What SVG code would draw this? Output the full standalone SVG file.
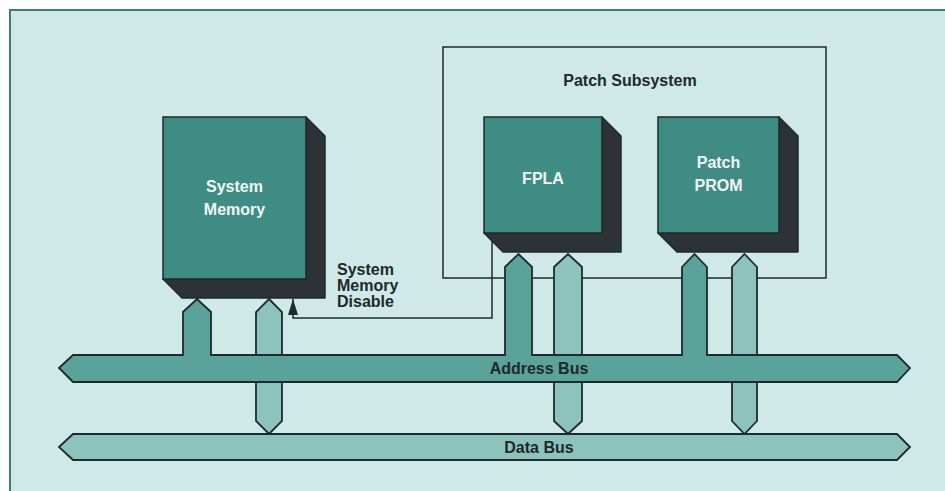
<svg xmlns="http://www.w3.org/2000/svg" width="945" height="491" viewBox="0 0 945 491">
  <style>
    .front { fill: #3f8c85; stroke: #1f2a2a; stroke-width: 1.5; }
    .shadow { fill: #2c3236; stroke: #1f2a2a; stroke-width: 1.5; stroke-linejoin: round; }
    .wt { font-family: "Liberation Sans", Arial, sans-serif; font-weight: bold; font-size: 16px; fill: #f2f7f6; text-anchor: middle; }
    .dt { font-family: "Liberation Sans", Arial, sans-serif; font-weight: bold; font-size: 16px; fill: #22282a; }
    .abus { fill: #5aa39a; stroke: #1f2a2a; stroke-width: 1.8; stroke-linejoin: miter; }
    .dbus { fill: #8cc3bc; stroke: #1f2a2a; stroke-width: 1.8; stroke-linejoin: miter; }
    .wire { fill: none; stroke: #1f2a2a; stroke-width: 1.5; }
  </style>
  <defs>
    <marker id="arr" markerUnits="userSpaceOnUse" markerWidth="16" markerHeight="10" viewBox="0 0 16 10" refX="16" refY="5" orient="auto">
      <path d="M0,0 L16,5 L0,10 z" fill="#1f2a2a"/>
    </marker>
  </defs>

  <!-- background and frame -->
  <rect x="0" y="0" width="945" height="491" fill="#ffffff"/>
  <rect x="10" y="10" width="935" height="481" fill="#cfe9e8"/>
  <path d="M10,491 V10 H945" fill="none" stroke="#3d7f78" stroke-width="2"/>

  <!-- Patch subsystem enclosure -->
  <g id="patch-subsystem">
    <rect x="443" y="47" width="383" height="231" fill="none" stroke="#1f2a2a" stroke-width="1.5"/>
    <text class="dt" x="630" y="86" text-anchor="middle">Patch Subsystem</text>
  </g>

  <!-- System Memory -->
  <g id="system-memory">
    <polygon class="shadow" points="306,117 325,136 325,298 182,298 163,279 306,279"/>
    <rect class="front" x="163" y="117" width="143" height="162"/>
    <text class="wt" x="234.5" y="192">System</text>
    <text class="wt" x="234.5" y="215">Memory</text>
  </g>

  <!-- FPLA -->
  <g id="fpla">
    <polygon class="shadow" points="602,117 621,136 621,252 503,252 484,233 602,233"/>
    <rect class="front" x="484" y="117" width="118" height="116"/>
    <text class="wt" x="543" y="184">FPLA</text>
  </g>

  <!-- Patch PROM -->
  <g id="patch-prom">
    <polygon class="shadow" points="779,117 798,136 798,252 677,252 658,233 779,233"/>
    <rect class="front" x="658" y="117" width="121" height="116"/>
    <text class="wt" x="718.5" y="168">Patch</text>
    <text class="wt" x="718.5" y="191">PROM</text>
  </g>

  <!-- connectors -->
  <g id="connectors">
    <polygon class="dbus" points="269,299 282,312 282,421 269,434 256,421 256,312"/>
    <polygon class="dbus" points="568,254 582,267 582,421 568,434 554,421 554,267"/>
    <polygon class="dbus" points="744.5,254 757,267 757,421 744.5,434 732,421 732,267"/>
    <path id="address-bus" class="abus" d="M59,368 L73,355 H183 V312 L197,299 L211,312 V355 H505 V267 L518.5,254 L532,267 V355 H682 V267 L694.5,254 L707,267 V355 H897 L910,368 L897,382 H73 Z"/>
    <path id="data-bus" class="dbus" d="M59,447 L73,434 H897 L910,447 L897,460 H73 Z"/>
    <path id="disable-line" class="wire" d="M492,241 V318 H293 V299" marker-end="url(#arr)"/>
  </g>

  <!-- labels -->
  <text class="dt" x="539" y="374" text-anchor="middle">Address Bus</text>
  <text class="dt" x="539" y="453" text-anchor="middle">Data Bus</text>
  <text class="dt" x="337" y="275">System</text>
  <text class="dt" x="337" y="291">Memory</text>
  <text class="dt" x="337" y="307">Disable</text>
</svg>
